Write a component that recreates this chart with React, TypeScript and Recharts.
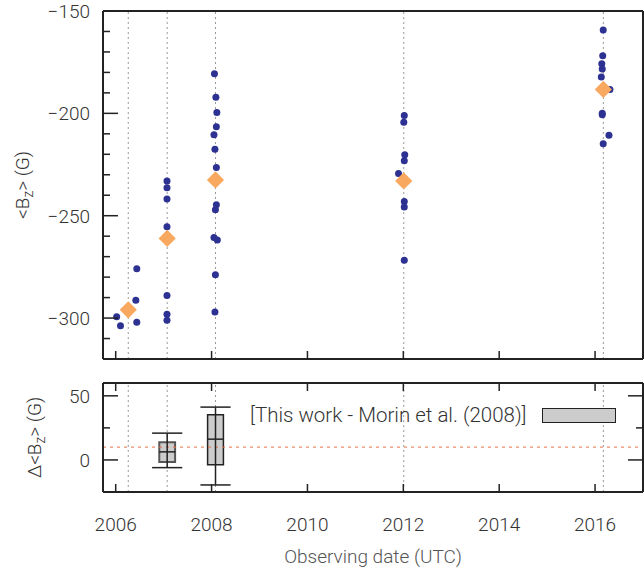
import React from 'react';
import {
  ScatterChart,
  ComposedChart,
  Scatter,
  XAxis,
  YAxis,
  ReferenceLine,
  ReferenceArea,
  Label,
} from 'recharts';

const FONT = 'Roboto, "DejaVu Sans", sans-serif';
const TEXT = '#333';
const FRAME = '#222';

// observing epochs (dotted vertical lines)
const epochs = [2006.262, 2007.074, 2008.082, 2012.009, 2016.173];

// individual <Bz> measurements
const obsYear = [
  2006.02, 2006.10, 2006.44, 2006.42, 2006.44,
  2007.07, 2007.07, 2007.07, 2007.07, 2007.07, 2007.07, 2007.07,
  2008.06, 2008.09, 2008.11, 2008.10, 2008.05, 2008.07, 2008.10, 2008.10, 2008.08, 2008.05, 2008.12, 2008.08, 2008.07,
  2012.02, 2012.01, 2012.03, 2012.02, 2011.90, 2012.02, 2012.02, 2012.02,
  2016.17, 2016.16, 2016.14, 2016.15, 2016.13, 2016.31, 2016.15, 2016.15, 2016.29, 2016.17,
];
const obsBz = [
  -299.3, -303.7, -275.9, -291.3, -302.0,
  -233.0, -236.3, -241.8, -255.4, -289.0, -298.1, -301.1,
  -180.7, -192.1, -199.6, -206.5, -210.4, -217.5, -226.5, -244.7, -247.1, -260.6, -261.9, -278.8, -297.0,
  -201.0, -204.4, -220.2, -223.2, -229.4, -243.1, -245.7, -271.8,
  -159.3, -171.9, -175.8, -178.3, -182.2, -188.3, -200.0, -200.7, -210.7, -214.8,
];

// mean field per epoch
const meanYear = [2006.262, 2007.074, 2008.082, 2012.009, 2016.173];
const meanBz = [-296.0, -261.1, -232.5, -233.0, -188.3];

// difference with Morin et al. (2008): box plot statistics
const boxYear = [2007.074, 2008.082];
const boxLow = [-6.0, -19.5];
const boxQ1 = [-1.6, -3.7];
const boxMed = [6.3, 16.2];
const boxQ3 = [13.8, 35.2];
const boxHigh = [20.9, 41.2];
const refLevel = 10;

const xTicks = [2006, 2008, 2010, 2012, 2014, 2016];
const bzTicks = [-320, -310, -300, -290, -280, -270, -260, -250, -240, -230, -220, -210, -200, -190, -180, -170, -160, -150];
const bzLabels = [-300, -250, -200, -150];
const dTicks = [-25, 0, 25, 50];
const dLabels = [0, 50];

const X_DOMAIN: [number, number] = [2005.735, 2017];
const BOX_HALF = 0.165;
const CAP_HALF = 0.315;

const obsData = obsYear.map((x, i) => ({ x, y: obsBz[i] }));
const meanData = meanYear.map((x, i) => ({ x, y: meanBz[i] }));
const boxData = boxYear.map((x, i) => ({ x, y: boxMed[i] }));

const Dot = (p: any) => <circle cx={p.cx} cy={p.cy} r={3.5} fill="#2d3191" />;
const Diamond = (p: any) => {
  const s = 8.6;
  return (
    <polygon
      points={`${p.cx},${p.cy - s} ${p.cx + s},${p.cy} ${p.cx},${p.cy + s} ${p.cx - s},${p.cy}`}
      fill="#f9a85f"
    />
  );
};

const tickFont = { fontFamily: FONT, fontSize: 19, fontWeight: 300, fill: TEXT };
const fmt = (v: number) => (v < 0 ? `\u2212${Math.abs(v)}` : `${v}`);

const leftTick = (labels: number[]) => (p: any) => {
  const major = labels.includes(p.payload.value);
  return (
    <g>
      <line x1={p.x} x2={p.x + (major ? 15 : 7)} y1={p.y} y2={p.y} stroke={FRAME} strokeWidth={1.5} />
      {major && (
        <text x={p.x - 13} y={p.y} dy="0.36em" textAnchor="end" {...tickFont}>
          {fmt(p.payload.value)}
        </text>
      )}
    </g>
  );
};
const rightTick = (labels: number[]) => (p: any) => {
  const major = labels.includes(p.payload.value);
  return <line x1={p.x} x2={p.x - (major ? 15 : 7)} y1={p.y} y2={p.y} stroke={FRAME} strokeWidth={1.5} />;
};
const topTick = (p: any) => <line x1={p.x} x2={p.x} y1={p.y} y2={p.y + 8} stroke={FRAME} strokeWidth={1.5} />;
const bottomTick = (withLabel: boolean) => (p: any) => (
  <g>
    <line x1={p.x} x2={p.x} y1={p.y} y2={p.y - 8} stroke={FRAME} strokeWidth={1.5} />
    {withLabel && (
      <text x={p.x} y={p.y + 32} dy="0.36em" textAnchor="middle" {...tickFont}>
        {p.payload.value}
      </text>
    )}
  </g>
);

const axisLine = { stroke: FRAME, strokeWidth: 2 };
const titleFont = { fontFamily: FONT, fontSize: 19, fontWeight: 300, fill: TEXT };

const yTitle = (cxOffset: number, prefix: string) => (p: any) => {
  const vb = p.viewBox;
  const cx = vb.x + cxOffset;
  const cy = vb.y + vb.height / 2;
  return (
    <text x={cx} y={cy} transform={`rotate(-90 ${cx} ${cy})`} textAnchor="middle" dy="0.36em" {...titleFont}>
      {prefix}&lt;B<tspan baselineShift="-25%" fontSize={14}>z</tspan>&gt; (G)
    </text>
  );
};

export default function App() {
  return (
    <div style={{ position: 'absolute', left: 0, top: 0, width: 644, height: 574, background: '#fff' }}>
      <div style={{ position: 'absolute', left: 0, top: 0 }}>
        <ScatterChart width={644} height={370} margin={{ top: 10, right: 0, bottom: 10, left: 0 }}>
          <XAxis xAxisId="b" type="number" dataKey="x" domain={X_DOMAIN} ticks={xTicks} interval={0}
            height={1} tickSize={0} tickMargin={0} tickLine={false} axisLine={axisLine} tick={bottomTick(false)} />
          <XAxis xAxisId="t" orientation="top" type="number" dataKey="x" domain={X_DOMAIN} ticks={xTicks} interval={0}
            height={1} tickSize={0} tickMargin={0} tickLine={false} axisLine={axisLine} tick={topTick} />
          <YAxis yAxisId="l" type="number" dataKey="y" domain={[-320, -150]} ticks={bzTicks} interval={0}
            width={103} tickSize={0} tickMargin={0} tickLine={false} axisLine={axisLine} tick={leftTick(bzLabels)}>
            <Label content={yTitle(22, '')} />
          </YAxis>
          <YAxis yAxisId="r" orientation="right" type="number" dataKey="y" domain={[-320, -150]} ticks={bzTicks} interval={0}
            width={1} tickSize={0} tickMargin={0} tickLine={false} axisLine={axisLine} tick={rightTick(bzLabels)} />
          {epochs.map((e) => (
            <ReferenceLine key={e} xAxisId="b" yAxisId="l" x={e} stroke="#999" strokeDasharray="2 3" />
          ))}
          <Scatter xAxisId="b" yAxisId="l" data={obsData} shape={Dot} isAnimationActive={false} />
          <Scatter xAxisId="b" yAxisId="l" data={meanData} shape={Diamond} isAnimationActive={false} />
        </ScatterChart>
      </div>
      <div style={{ position: 'absolute', left: 0, top: 370 }}>
        <ComposedChart width={644} height={204} data={boxData} margin={{ top: 12, right: 0, bottom: 0, left: 0 }}>
          <XAxis xAxisId="b" type="number" dataKey="x" domain={X_DOMAIN} ticks={xTicks} interval={0}
            height={82} tickSize={0} tickMargin={0} tickLine={false} axisLine={axisLine} tick={bottomTick(true)}>
            <Label
              content={(p: any) => (
                <text x={p.viewBox.x + p.viewBox.width / 2} y={p.viewBox.y + 64} dy="0.36em" textAnchor="middle"
                  fontFamily={FONT} fontSize={19} fontWeight={300} fill="#555">
                  Observing date (UTC)
                </text>
              )}
            />
          </XAxis>
          <XAxis xAxisId="t" orientation="top" type="number" dataKey="x" domain={X_DOMAIN} ticks={xTicks} interval={0}
            height={1} tickSize={0} tickMargin={0} tickLine={false} axisLine={axisLine} tick={topTick} />
          <YAxis yAxisId="l" type="number" dataKey="y" domain={[-25, 60]} ticks={dTicks} interval={0}
            width={103} tickSize={0} tickMargin={0} tickLine={false} axisLine={axisLine} tick={leftTick(dLabels)}>
            <Label content={yTitle(34, 'Δ')} />
          </YAxis>
          <YAxis yAxisId="r" orientation="right" type="number" dataKey="y" domain={[-25, 60]} ticks={dTicks} interval={0}
            width={1} tickSize={0} tickMargin={0} tickLine={false} axisLine={axisLine} tick={rightTick(dLabels)} />
          {epochs.map((e) => (
            <ReferenceLine key={e} xAxisId="b" yAxisId="l" x={e} stroke="#999" strokeDasharray="2 3" />
          ))}
          <ReferenceLine xAxisId="b" yAxisId="l" y={refLevel} stroke="#e8704a" strokeDasharray="3 4" />
          {boxYear.map((x, i) => (
            <React.Fragment key={x}>
              <ReferenceLine xAxisId="b" yAxisId="l" segment={[{ x, y: boxLow[i] }, { x, y: boxHigh[i] }]} stroke={FRAME} strokeWidth={1.5} />
              <ReferenceLine xAxisId="b" yAxisId="l" segment={[{ x: x - CAP_HALF, y: boxLow[i] }, { x: x + CAP_HALF, y: boxLow[i] }]} stroke={FRAME} strokeWidth={1.5} />
              <ReferenceLine xAxisId="b" yAxisId="l" segment={[{ x: x - CAP_HALF, y: boxHigh[i] }, { x: x + CAP_HALF, y: boxHigh[i] }]} stroke={FRAME} strokeWidth={1.5} />
              <ReferenceArea xAxisId="b" yAxisId="l" x1={x - BOX_HALF} x2={x + BOX_HALF} y1={boxQ1[i]} y2={boxQ3[i]}
                fill="#cccccc" fillOpacity={1} stroke={i === 0 ? '#555' : FRAME} strokeWidth={i === 0 ? 2 : 1.5} />
              <ReferenceLine xAxisId="b" yAxisId="l" segment={[{ x: x - BOX_HALF, y: boxMed[i] }, { x: x + BOX_HALF, y: boxMed[i] }]} stroke={FRAME} strokeWidth={1.5} />
            </React.Fragment>
          ))}
          <Scatter xAxisId="b" yAxisId="l" dataKey="y" shape={() => null} isAnimationActive={false} />
        </ComposedChart>
      </div>
      <div
        style={{
          position: 'absolute', left: 250, top: 402, display: 'flex', alignItems: 'center',
          fontFamily: FONT, fontSize: 20.5, fontWeight: 300, color: TEXT, whiteSpace: 'nowrap', lineHeight: '26px',
        }}
      >
        <span>[This work - Morin et al. (2008)]</span>
        <span style={{ display: 'inline-block', width: 72, height: 13, marginLeft: 15, background: '#cccccc', border: `1.5px solid ${FRAME}` }} />
      </div>
    </div>
  );
}
